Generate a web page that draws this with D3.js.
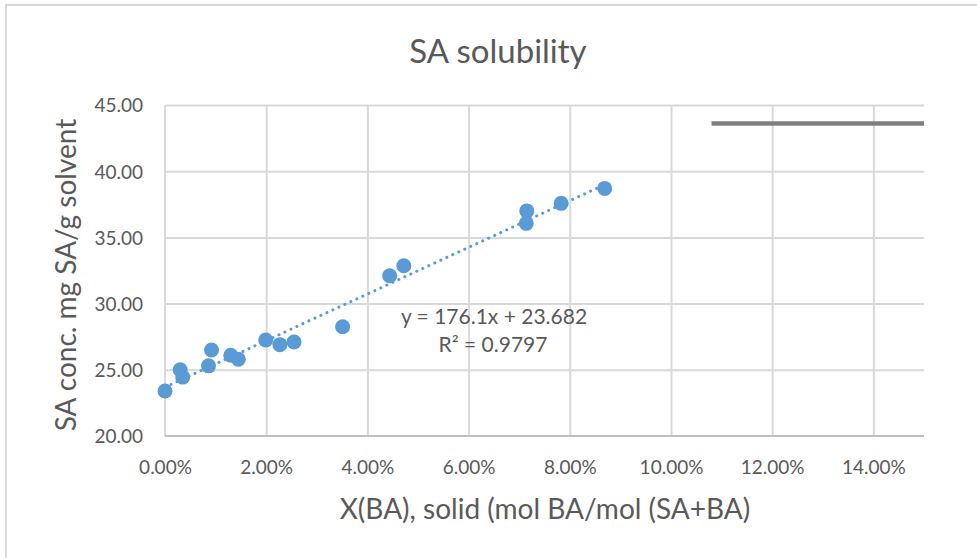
<!DOCTYPE html>
<html>
<head>
<meta charset="utf-8">
<script src="https://cdn.jsdelivr.net/npm/d3@7"></script>
<style>
  html, body { margin: 0; padding: 0; background: #fff; }
  svg { display: block; }
  text { font-family: Lato, "Open Sans", sans-serif; fill: #595959; }
</style>
</head>
<body>
<script>
// Measured solid composition X(BA) (mole fraction) and SA concentration (mg SA / g solvent)
const xBA = [0.0000, 0.0030, 0.0035, 0.0086, 0.0092, 0.0130, 0.0145, 0.0199, 0.0227,
             0.0255, 0.0351, 0.0444, 0.0472, 0.0714, 0.0715, 0.0783, 0.0869];
const saConc = [23.40, 25.00, 24.45, 25.30, 26.50, 26.10, 25.80, 27.25, 26.90,
                27.10, 28.25, 32.10, 32.86, 36.06, 37.00, 37.57, 38.70];

// Reference level series (grey line)
const refX = [0.108, 0.16];
const refY = [43.6, 43.6];

// Linear trendline parameters
const slope = 176.1, intercept = 23.682, r2 = 0.9797;

const xTicks = [0, 0.02, 0.04, 0.06, 0.08, 0.10, 0.12, 0.14];
const yTicks = [20, 25, 30, 35, 40, 45];

const W = 977, H = 558;
const plot = { left: 165, right: 924, top: 105, bottom: 436 };

const svg = d3.select("body").append("svg").attr("width", W).attr("height", H);

// Chart area border
svg.append("rect").attr("x", 6).attr("y", 5).attr("width", W + 20).attr("height", H + 20)
  .attr("fill", "#fff").attr("stroke", "#d9d9d9").attr("stroke-width", 2);

const x = d3.scaleLinear().domain([0, 0.15]).range([plot.left, plot.right]);
const y = d3.scaleLinear().domain([20, 45]).range([plot.bottom, plot.top]);

// Gridlines
const gx = svg.append("g").attr("transform", `translate(0,${plot.bottom})`)
  .call(d3.axisBottom(x).tickValues(xTicks.filter(v => v > 0))
    .tickSize(-(plot.bottom - plot.top)).tickFormat(""));
gx.select(".domain").remove();
gx.selectAll(".tick line").attr("stroke", "#d9d9d9").attr("stroke-width", 2);

const gy = svg.append("g").attr("transform", `translate(${plot.left},0)`)
  .call(d3.axisLeft(y).tickValues(yTicks.filter(v => v > 20))
    .tickSize(-(plot.right - plot.left)).tickFormat(""));
gy.select(".domain").remove();
gy.selectAll(".tick line").attr("stroke", "#d9d9d9").attr("stroke-width", 2);

// Axis lines
svg.append("line").attr("x1", plot.left).attr("x2", plot.left)
  .attr("y1", plot.top).attr("y2", plot.bottom).attr("stroke", "#d9d9d9").attr("stroke-width", 2);
svg.append("line").attr("x1", plot.left).attr("x2", plot.right)
  .attr("y1", plot.bottom).attr("y2", plot.bottom).attr("stroke", "#bfbfbf").attr("stroke-width", 2);

// Tick labels
const xAxis = svg.append("g").attr("transform", `translate(0,${plot.bottom})`)
  .call(d3.axisBottom(x).tickValues(xTicks).tickSize(0).tickPadding(0)
    .tickFormat(d => (d * 100).toFixed(2) + "%"));
xAxis.select(".domain").remove();
xAxis.selectAll("text").attr("y", 38).attr("dy", null)
  .style("font-size", "19px").style("fill", "#595959").style("font-family", "Lato, sans-serif");

const yAxis = svg.append("g").attr("transform", `translate(${plot.left},0)`)
  .call(d3.axisLeft(y).tickValues(yTicks).tickSize(0).tickPadding(0)
    .tickFormat(d => d.toFixed(2)));
yAxis.select(".domain").remove();
yAxis.selectAll("text").attr("x", -22).attr("dy", "0.36em")
  .style("font-size", "19px").style("fill", "#595959").style("font-family", "Lato, sans-serif");

// Clip for series
svg.append("clipPath").attr("id", "plotclip").append("rect")
  .attr("x", plot.left).attr("y", plot.top - 10)
  .attr("width", plot.right - plot.left).attr("height", plot.bottom - plot.top + 20);

// Grey reference line
const line = d3.line().x(d => x(d[0])).y(d => y(d[1]));
svg.append("path").datum(d3.zip(refX, refY)).attr("d", line)
  .attr("clip-path", "url(#plotclip)")
  .attr("fill", "none").attr("stroke", "#7f7f7f").attr("stroke-width", 4.5);

// Trendline across the data range
const xMin = d3.min(xBA), xMax = d3.max(xBA);
svg.append("path").datum([[xMin, intercept + slope * xMin], [xMax, intercept + slope * xMax]])
  .attr("d", line).attr("fill", "none").attr("stroke", "#5b9bd5")
  .attr("stroke-width", 3).attr("stroke-linecap", "round").attr("stroke-dasharray", "0.1 6.5");

// Data points
svg.append("g").selectAll("circle").data(d3.zip(xBA, saConc)).join("circle")
  .attr("cx", d => x(d[0])).attr("cy", d => y(d[1])).attr("r", 7.5)
  .attr("fill", "#5b9bd5");

// Trendline equation
svg.append("text").attr("x", 494).attr("y", 324).attr("text-anchor", "middle")
  .style("font-size", "21px").text(`y = ${slope}x + ${intercept}`);
svg.append("text").attr("x", 493).attr("y", 352).attr("text-anchor", "middle")
  .style("font-size", "21px").text(`R² = ${r2}`);

// Title
svg.append("text").attr("x", 498).attr("y", 63).attr("text-anchor", "middle")
  .style("font-size", "33px").text("SA solubility");

// Axis titles
svg.append("text").attr("x", 545).attr("y", 519).attr("text-anchor", "middle")
  .style("font-size", "28px").text("X(BA), solid (mol BA/mol (SA+BA)");
svg.append("text").attr("transform", "translate(76,275) rotate(-90)").attr("text-anchor", "middle")
  .style("font-size", "28px").text("SA conc. mg SA/g solvent");
</script>
</body>
</html>
